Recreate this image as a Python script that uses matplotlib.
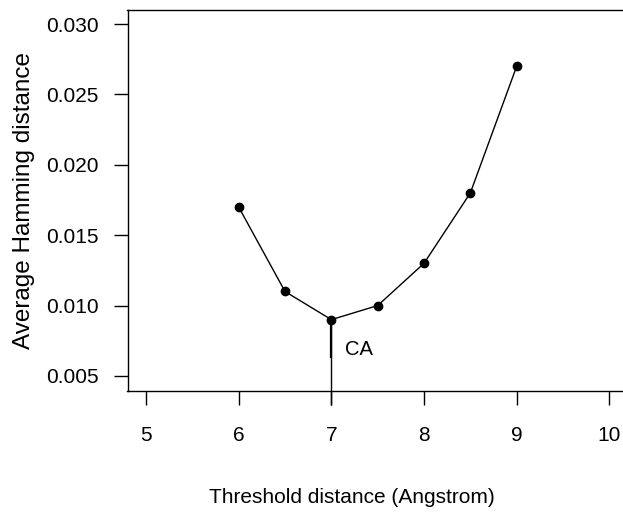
import matplotlib.pyplot as plt

plt.rcParams['font.family'] = ['Liberation Sans', 'DejaVu Sans']

# average Hamming distance per contact threshold
thresholds = [6.0, 6.5, 7.0, 7.5, 8.0, 8.5, 9.0]
hamming = [0.017, 0.011, 0.009, 0.010, 0.013, 0.018, 0.027]
x_ticks = [5, 6, 7, 8, 9, 10]
y_ticks = [0.005, 0.010, 0.015, 0.020, 0.025, 0.030]
best_label = 'CA'
drop_to = 0.0029

W, H = 623, 514
fig = plt.figure(figsize=(W / 100, H / 100), dpi=100)
ax = fig.add_axes([127.5 / W, 1 - 391 / H, (626 - 127.5) / W, (391 - 10) / H])

ax.plot(thresholds, hamming, color='black', lw=1.0, marker='o', ms=6,
        clip_on=False)

# mark the minimum with a drop line
i_min = hamming.index(min(hamming))
x_min, y_min = thresholds[i_min], hamming[i_min]
ax.plot([x_min, x_min], [y_min, y_min - 0.0027], color='black', lw=1.6,
        solid_capstyle='butt')
ax.plot([x_min, x_min], [y_min, drop_to], color='black', lw=1.0,
        clip_on=False, solid_capstyle='butt')
ax.text(x_min + 0.15, y_min - 0.0021, best_label, fontsize=14.5,
        ha='left', va='center')

ax.set_xlim(4.80, 10.18)
ax.set_ylim(0.00393, 0.0310)
ax.set_xticks(x_ticks)
ax.set_yticks(y_ticks)
ax.set_yticklabels([f'{v:.3f}' for v in y_ticks])

for s in ax.spines.values():
    s.set_linewidth(1.0)
ax.tick_params(direction='out', length=10, width=1.0, labelsize=15)
ax.tick_params(axis='y', pad=11)
ax.tick_params(axis='x', pad=15.5)

ax.set_xlabel('Threshold distance (Angstrom)', fontsize=15)
ax.xaxis.set_label_coords(0.45, -0.255)
ax.set_ylabel('Average Hamming distance', fontsize=17.5, labelpad=8)

fig.savefig('out.png', dpi=100)
